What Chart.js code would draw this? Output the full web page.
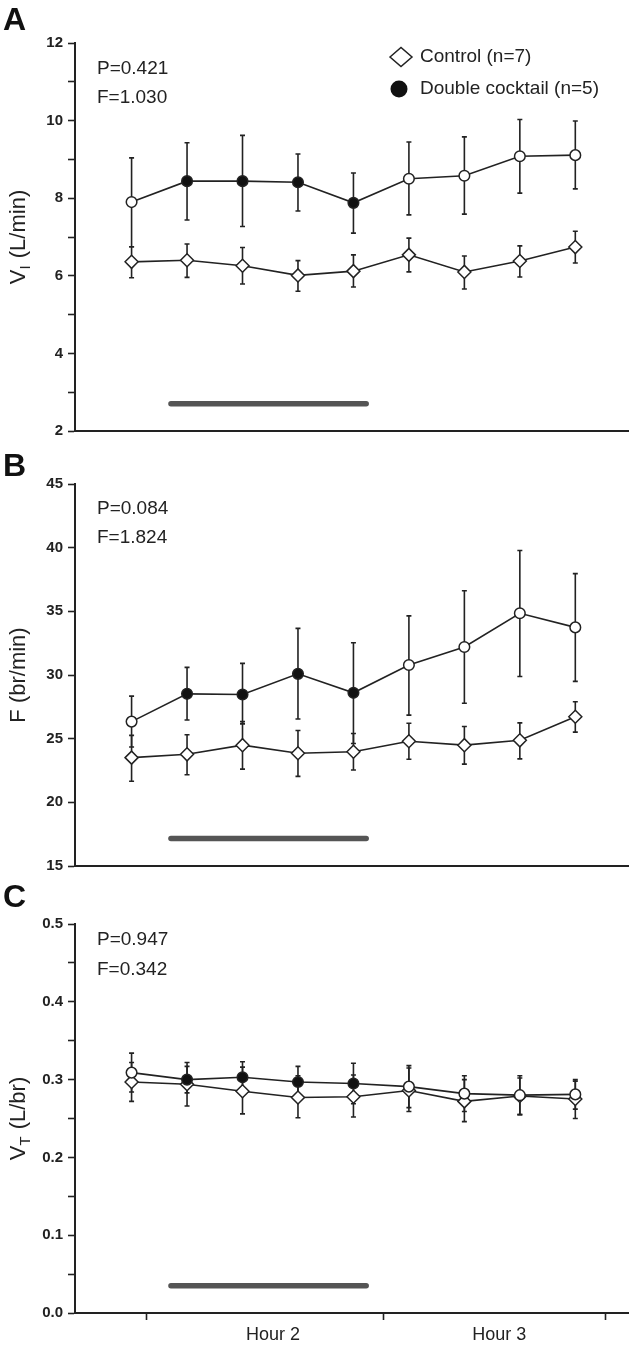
<!DOCTYPE html>
<html>
<head>
<meta charset="utf-8">
<script src="https://cdn.jsdelivr.net/npm/chart.js@4.4.0/dist/chart.umd.min.js"></script>
<style>
  body { margin: 0; background: #fff; width: 636px; height: 1345px; position: relative; overflow: hidden; }
  canvas { position: absolute; left: 0; }
</style>
</head>
<body>
<canvas id="panelA" width="636" height="445" style="top:0px"></canvas>
<canvas id="panelB" width="636" height="435" style="top:445px"></canvas>
<canvas id="panelC" width="636" height="465" style="top:880px"></canvas>
<script>
// time points (15 min steps), filled symbols while the cocktail is infused
var timePoints = [0, 1, 2, 3, 4, 5, 6, 7, 8];
var infused = [false, true, true, true, true, false, false, false, false];

// x axis: tick marks and hour labels
var hourTicks = [0.27, 4.54, 8.55];
var hourLabels = ['Hour 2', 'Hour 3'];
var hourLabelPos = [2.55, 6.63];
var infusionBar = [0.71, 4.23];

// A - VI (L/min)
var viCocktail   = [7.90, 8.44, 8.44, 8.41, 7.88, 8.50, 8.58, 9.08, 9.11];
var viCocktailHi = [9.04, 9.43, 9.62, 9.14, 8.65, 9.45, 9.58, 10.03, 9.99];
var viCocktailLo = [6.75, 7.44, 7.27, 7.67, 7.10, 7.57, 7.59, 8.13, 8.24];
var viControl    = [6.36, 6.40, 6.26, 6.01, 6.12, 6.54, 6.10, 6.38, 6.74];
var viControlHi  = [6.75, 6.82, 6.73, 6.39, 6.54, 6.97, 6.51, 6.77, 7.15];
var viControlLo  = [5.95, 5.96, 5.79, 5.60, 5.71, 6.10, 5.66, 5.97, 6.33];

// B - F (br/min)
var fCocktail   = [26.34, 28.52, 28.47, 30.09, 28.60, 30.79, 32.20, 34.85, 33.74];
var fCocktailHi = [28.34, 30.60, 30.91, 33.66, 32.53, 34.64, 36.62, 39.78, 37.96];
var fCocktailLo = [24.34, 26.47, 26.16, 26.55, 24.62, 26.85, 27.78, 29.88, 29.50];
var fControl    = [23.51, 23.77, 24.49, 23.85, 23.97, 24.80, 24.49, 24.87, 26.72];
var fControlHi  = [25.26, 25.31, 26.34, 25.64, 25.40, 26.21, 25.95, 26.24, 27.90];
var fControlLo  = [21.66, 22.17, 22.61, 22.04, 22.54, 23.38, 23.00, 23.41, 25.51];

// C - VT (L/br)
var vtCocktail   = [0.309, 0.300, 0.303, 0.297, 0.295, 0.291, 0.282, 0.280, 0.281];
var vtCocktailHi = [0.334, 0.317, 0.323, 0.317, 0.321, 0.318, 0.305, 0.305, 0.300];
var vtCocktailLo = [0.284, 0.283, 0.283, 0.277, 0.269, 0.264, 0.259, 0.255, 0.262];
var vtControl    = [0.297, 0.294, 0.285, 0.277, 0.278, 0.286, 0.272, 0.279, 0.275];
var vtControlHi  = [0.322, 0.322, 0.316, 0.305, 0.306, 0.315, 0.300, 0.302, 0.298];
var vtControlLo  = [0.272, 0.266, 0.256, 0.251, 0.252, 0.259, 0.246, 0.255, 0.250];

var FONT = '"Liberation Sans", Arial, sans-serif';
var INK = '#222';

function pts(vals){
  return vals.map(function(v, i){ return { x: timePoints[i], y: v }; });
}

// error bars drawn under the markers, through the chart's scales
var errorBars = {
  id: 'errorBars',
  beforeDatasetsDraw: function(chart){
    var ctx = chart.ctx, xs = chart.scales.x, ys = chart.scales.y;
    ctx.save();
    ctx.strokeStyle = INK;
    ctx.lineWidth = 1.6;
    chart.data.datasets.forEach(function(ds){
      if(!ds.errHi) return;
      ds.data.forEach(function(p, i){
        var x = xs.getPixelForValue(p.x);
        var yh = ys.getPixelForValue(ds.errHi[i]);
        var yl = ys.getPixelForValue(ds.errLo[i]);
        ctx.beginPath();
        ctx.moveTo(x, yh); ctx.lineTo(x, yl);
        ctx.moveTo(x - 2.5, yh); ctx.lineTo(x + 2.5, yh);
        ctx.moveTo(x - 2.5, yl); ctx.lineTo(x + 2.5, yl);
        ctx.stroke();
      });
    });
    ctx.restore();
  }
};

// panel letter, P/F statistics, rotated y title with subscript, legend
var decor = {
  id: 'decor',
  afterDraw: function(chart){
    var o = chart.options.plugins.decor;
    var ctx = chart.ctx, area = chart.chartArea;
    ctx.save();
    ctx.fillStyle = '#111';
    ctx.textBaseline = 'middle';
    ctx.textAlign = 'left';
    ctx.font = 'bold 32px ' + FONT;
    ctx.fillText(o.letter, 3, o.letterY);

    ctx.fillStyle = INK;
    ctx.font = '19px ' + FONT;
    ctx.fillText(o.stats[0], 97, o.statY[0]);
    ctx.fillText(o.stats[1], 97, o.statY[1]);

    // y title
    ctx.translate(19, (area.top + area.bottom) / 2);
    ctx.rotate(-Math.PI / 2);
    var big = '22px ' + FONT, small = '15px ' + FONT;
    ctx.font = big;
    var w1 = ctx.measureText(o.title[0]).width;
    var w3 = ctx.measureText(o.title[2]).width;
    ctx.font = small;
    var w2 = o.title[1] ? ctx.measureText(o.title[1]).width + 1 : 0;
    var s = -(w1 + w2 + w3) / 2;
    ctx.font = big;
    ctx.fillText(o.title[0], s, 0);
    ctx.fillText(o.title[2], s + w1 + w2, 0);
    if(o.title[1]){
      ctx.font = small;
      ctx.fillText(o.title[1], s + w1, 7);
    }
    ctx.restore();

    if(o.legend){
      ctx.save();
      ctx.strokeStyle = INK;
      ctx.lineWidth = 1.5;
      ctx.fillStyle = '#fff';
      ctx.beginPath();
      ctx.moveTo(401 - 11, 57); ctx.lineTo(401, 47.5); ctx.lineTo(401 + 11, 57); ctx.lineTo(401, 66.5);
      ctx.closePath(); ctx.fill(); ctx.stroke();
      ctx.fillStyle = '#111';
      ctx.beginPath();
      ctx.arc(399, 89, 8.5, 0, Math.PI * 2);
      ctx.fill();
      ctx.fillStyle = INK;
      ctx.font = '19px ' + FONT;
      ctx.textBaseline = 'middle';
      ctx.fillText('Control (n=7)', 420, 57);
      ctx.fillText('Double cocktail (n=5)', 420, 89);
      ctx.restore();
    }
  }
};

function makePanel(id, cfg){
  var datasets = [
    {
      label: 'Double cocktail (n=5)',
      data: pts(cfg.cocktail), errHi: cfg.cocktailHi, errLo: cfg.cocktailLo,
      borderColor: INK, borderWidth: 1.6,
      pointStyle: 'circle', pointRadius: 5.3, pointBorderWidth: 1.5,
      pointBorderColor: INK,
      pointBackgroundColor: infused.map(function(f){ return f ? '#111' : '#fff'; }),
      order: 0
    },
    {
      label: 'Control (n=7)',
      data: pts(cfg.control), errHi: cfg.controlHi, errLo: cfg.controlLo,
      borderColor: INK, borderWidth: 1.6,
      pointStyle: 'rectRot', pointRadius: 6.5, pointBorderWidth: 1.5,
      pointBorderColor: INK, pointBackgroundColor: '#fff',
      order: 1
    },
    {
      label: 'infusion',
      data: [{ x: infusionBar[0], y: cfg.barY }, { x: infusionBar[1], y: cfg.barY }],
      borderColor: '#555', borderWidth: 5.5, borderCapStyle: 'round',
      pointRadius: 0, order: 2
    }
  ];

  var xAxis = {
    type: 'linear', min: -1.02, max: 8.95,
    grid: { drawOnChartArea: false, drawTicks: false },
    border: { display: true, color: INK, width: 2 },
    ticks: { display: false },
    afterFit: function(s){ s.height = 0; }
  };
  if(cfg.showHours){
    xAxis = {
      type: 'linear', min: -1.02, max: 8.95,
      afterBuildTicks: function(s){
        s.ticks = [
          { value: hourTicks[0] }, { value: hourLabelPos[0] },
          { value: hourTicks[1] }, { value: hourLabelPos[1] },
          { value: hourTicks[2] }
        ];
      },
      grid: {
        drawOnChartArea: false, drawTicks: true, tickLength: 7, tickWidth: 1.6,
        tickColor: function(c){ return c.index % 2 === 0 ? INK : 'rgba(0,0,0,0)'; }
      },
      border: { display: true, color: INK, width: 2 },
      ticks: {
        autoSkip: false, maxRotation: 0, padding: 4, color: INK,
        font: { family: FONT, size: 18 },
        callback: function(v, i){ return i % 2 === 1 ? hourLabels[(i - 1) / 2] : ''; }
      },
      afterFit: function(s){ s.height = 32; }
    };
  }

  return new Chart(document.getElementById(id), {
    type: 'line',
    data: { datasets: datasets },
    plugins: [errorBars, decor],
    options: {
      responsive: false, animation: false, devicePixelRatio: 1,
      layout: { padding: { top: cfg.padTop, bottom: cfg.padBottom, left: 0, right: 3 } },
      elements: { line: { tension: 0 } },
      plugins: {
        legend: { display: false }, tooltip: { enabled: false },
        decor: {
          letter: cfg.letter, letterY: cfg.letterY,
          stats: cfg.stats, statY: cfg.statY,
          title: cfg.title, legend: cfg.legend
        }
      },
      scales: {
        x: xAxis,
        y: {
          min: cfg.min, max: cfg.max,
          ticks: {
            stepSize: cfg.step, color: INK, padding: 5,
            font: { family: FONT, size: 15, weight: 'bold' },
            callback: cfg.label
          },
          grid: { drawOnChartArea: false, drawTicks: true, tickLength: 7, tickWidth: 1.6, tickColor: INK },
          border: { display: true, color: INK, width: 2 },
          afterFit: function(s){ s.width = 75; }
        }
      }
    }
  });
}

makePanel('panelA', {
  cocktail: viCocktail, cocktailHi: viCocktailHi, cocktailLo: viCocktailLo,
  control: viControl, controlHi: viControlHi, controlLo: viControlLo,
  barY: 2.7, min: 2, max: 12, step: 1,
  label: function(v){ return v % 2 === 0 ? v : ''; },
  padTop: 43, padBottom: 14,
  letter: 'A', letterY: 21, stats: ['P=0.421', 'F=1.030'], statY: [69, 98],
  title: ['V', 'I', ' (L/min)'], legend: true
});

makePanel('panelB', {
  cocktail: fCocktail, cocktailHi: fCocktailHi, cocktailLo: fCocktailLo,
  control: fControl, controlHi: fControlHi, controlLo: fControlLo,
  barY: 17.15, min: 15, max: 45, step: 5,
  label: function(v){ return v; },
  padTop: 39, padBottom: 7,
  letter: 'B', letterY: 22, stats: ['P=0.084', 'F=1.824'], statY: [64, 93],
  title: ['F (br/min)', '', ''], legend: false
});

makePanel('panelC', {
  cocktail: vtCocktail, cocktailHi: vtCocktailHi, cocktailLo: vtCocktailLo,
  control: vtControl, controlHi: vtControlHi, controlLo: vtControlLo,
  barY: 0.035, min: 0, max: 0.5, step: 0.05,
  label: function(v){ var t = Math.round(v * 100); return t % 10 === 0 ? (t / 100).toFixed(1) : ''; },
  padTop: 44, padBottom: 0,
  letter: 'C', letterY: 18, stats: ['P=0.947', 'F=0.342'], statY: [60, 90],
  title: ['V', 'T', ' (L/br)'], legend: false, showHours: true
});
</script>
</body>
</html>
